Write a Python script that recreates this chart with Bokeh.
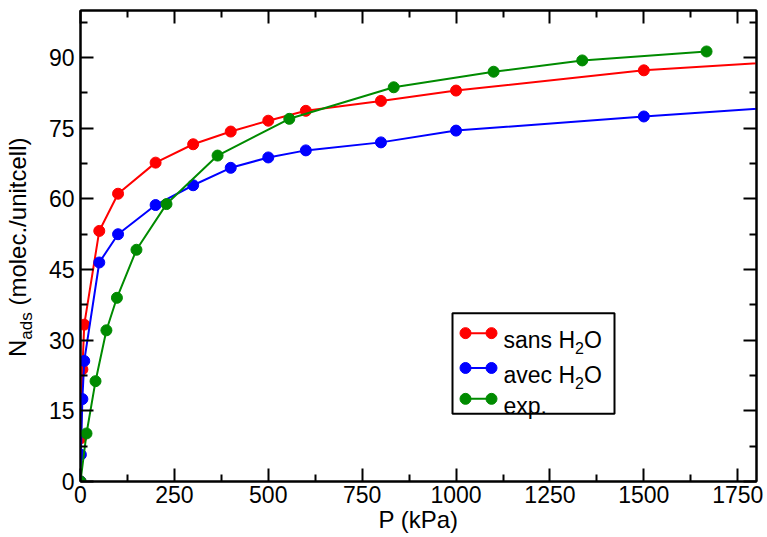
from bokeh.plotting import figure
from bokeh.layouts import row
from bokeh.models import (Range1d, FixedTicker, LinearAxis, BoxAnnotation, Label,
                          CustomLabelingPolicy, Div)
from bokeh.embed import file_html
from bokeh.resources import INLINE

# ---------------- data ----------------
sans_P = [0, 1, 5, 10, 50, 100, 200, 300, 400, 500, 600, 800, 1000, 1500, 2000]
sans_N = [0, 9.2, 23.8, 33.3, 53.2, 61.1, 67.7, 71.6, 74.3, 76.6, 78.7, 80.8, 83.0, 87.3, 89.8]

avec_P = [0, 1, 5, 10, 50, 100, 200, 300, 400, 500, 600, 800, 1000, 1500, 2000]
avec_N = [0, 5.7, 17.5, 25.6, 46.5, 52.5, 58.7, 62.9, 66.6, 68.8, 70.3, 72.0, 74.5, 77.5, 80.2]

exp_P = [0, 16, 40, 69, 97, 149, 229, 365, 556, 834, 1100, 1336, 1667]
exp_N = [0, 10.2, 21.3, 32.1, 39.0, 49.2, 58.9, 69.2, 77.0, 83.7, 87.0, 89.4, 91.3]

x_ticks = [0, 250, 500, 750, 1000, 1250, 1500, 1750]
x_minor = [125, 375, 625, 875, 1125, 1375, 1625]
y_ticks = [0, 15, 30, 45, 60, 75, 90]
y_minor = [7.5, 22.5, 37.5, 52.5, 67.5, 82.5, 97.5]

series_names = ["sans H", "avec H", "exp."]
series_colors = ["#ff0000", "#0000ff", "#008b00"]

FONT = "Liberation Sans"
X0, X1, Y0, Y1 = 0, 1800, 0, 100

# frame position on the page (for placing annotations)
FL, FR, FT, FB = 80, 756, 10, 483
DIV_W = 40
H = 535


def to_dx(px):
    return X0 + (px - FL) / (FR - FL) * (X1 - X0)


def to_dy(py):
    return Y0 + (FB - py) / (FB - FT) * (Y1 - Y0)


p = figure(width=725, height=H, output_backend="svg", toolbar_location=None,
           x_range=Range1d(X0, X1), y_range=Range1d(Y0, Y1),
           min_border_left=FL - DIV_W, min_border_right=DIV_W + 725 - FR,
           min_border_top=FT, min_border_bottom=H - FB, x_axis_label="P (kPa)")
p.xgrid.visible = False
p.ygrid.visible = False
p.outline_line_color = "black"
p.outline_line_width = 2
p.background_fill_color = "white"
p.border_fill_color = "white"

no_labels = CustomLabelingPolicy(code="""
const all = [...indices]
for (const i of all) indices.unset(i)
return indices
""")


def style(ax, ticks, minor, labels=True):
    ax.ticker = FixedTicker(ticks=ticks, minor_ticks=minor)
    ax.axis_line_color = "black"
    ax.axis_line_width = 2
    ax.major_tick_line_color = "black"
    ax.minor_tick_line_color = "black"
    ax.major_tick_line_width = 2
    ax.minor_tick_line_width = 2
    ax.major_tick_in = 13
    ax.major_tick_out = 0
    ax.minor_tick_in = 7
    ax.minor_tick_out = 0
    ax.major_label_text_font = FONT
    ax.major_label_text_color = "black"
    if labels:
        ax.major_label_text_font_size = "23px"
    else:
        ax.major_label_text_font_size = "1px"
        ax.major_label_standoff = 0
        ax.major_label_policy = no_labels


style(p.xaxis[0], x_ticks, x_minor)
p.xaxis[0].major_label_standoff = 4
p.xaxis[0].axis_label_text_font = FONT
p.xaxis[0].axis_label_text_font_size = "24px"
p.xaxis[0].axis_label_text_font_style = "normal"
p.xaxis[0].axis_label_text_color = "black"
p.xaxis[0].axis_label_standoff = 0

style(p.yaxis[0], y_ticks, y_minor)
p.yaxis[0].major_label_standoff = 6

top = LinearAxis()
style(top, x_ticks, x_minor, labels=False)
p.add_layout(top, "above")
right = LinearAxis()
style(right, y_ticks, y_minor, labels=False)
p.add_layout(right, "right")

# ---------------- series ----------------
for xs, ys, c in [(sans_P, sans_N, series_colors[0]),
                  (avec_P, avec_N, series_colors[1]),
                  (exp_P, exp_N, series_colors[2])]:
    p.line(xs, ys, line_color=c, line_width=2)
    p.scatter(xs, ys, size=11, fill_color=c, line_color=c, marker="circle")

# ---------------- legend (xmgrace style) ----------------
p.add_layout(BoxAnnotation(left=to_dx(452), right=to_dx(614), top=to_dy(314),
                           bottom=to_dy(415), fill_color="white", fill_alpha=1,
                           line_color="black", line_alpha=1, line_width=2,
                           level="underlay"))
LEG_FS = 23
SUB_FS = 16
rows_y = [334, 369, 400]
for name, c, ry in zip(series_names, series_colors, rows_y):
    yy = to_dy(ry)
    p.segment(x0=[to_dx(465)], y0=[yy], x1=[to_dx(491)], y1=[yy], line_color=c, line_width=2)
    p.scatter([to_dx(465), to_dx(491)], [yy, yy], size=11, fill_color=c, line_color=c)
    base = to_dy(ry + 7)
    p.add_layout(Label(x=to_dx(503), y=base, text=name, text_font=FONT,
                       text_font_size=f"{LEG_FS}px", text_color="black",
                       text_baseline="alphabetic"))
    if name != "exp.":
        w1 = 3.112 * LEG_FS
        p.add_layout(Label(x=to_dx(503 + w1), y=to_dy(ry + 15), text="2", text_font=FONT,
                           text_font_size=f"{SUB_FS}px", text_color="black",
                           text_baseline="alphabetic"))
        p.add_layout(Label(x=to_dx(503 + w1 + 0.556 * SUB_FS), y=base, text="O",
                           text_font=FONT, text_font_size=f"{LEG_FS}px",
                           text_color="black", text_baseline="alphabetic"))

# ---------------- y axis label (HTML, with subscript) ----------------
ylabel_html = (
    f'<div style="position:relative;width:{DIV_W}px;height:{H}px;">'
    '<div style="position:absolute;left:6px;top:357px;transform-origin:0 0;'
    'transform:rotate(-90deg);white-space:nowrap;font-family:\'Liberation Sans\';'
    'font-size:24px;line-height:24px;color:black;">'
    'N<sub style="font-size:17px;line-height:0;">ads</sub>&nbsp;(molec./unitcell)</div></div>'
)
ylab = Div(text=ylabel_html, width=DIV_W, height=H, margin=0)

layout = row(ylab, p, spacing=0)
open("out.html", "w").write(file_html(layout, INLINE))
